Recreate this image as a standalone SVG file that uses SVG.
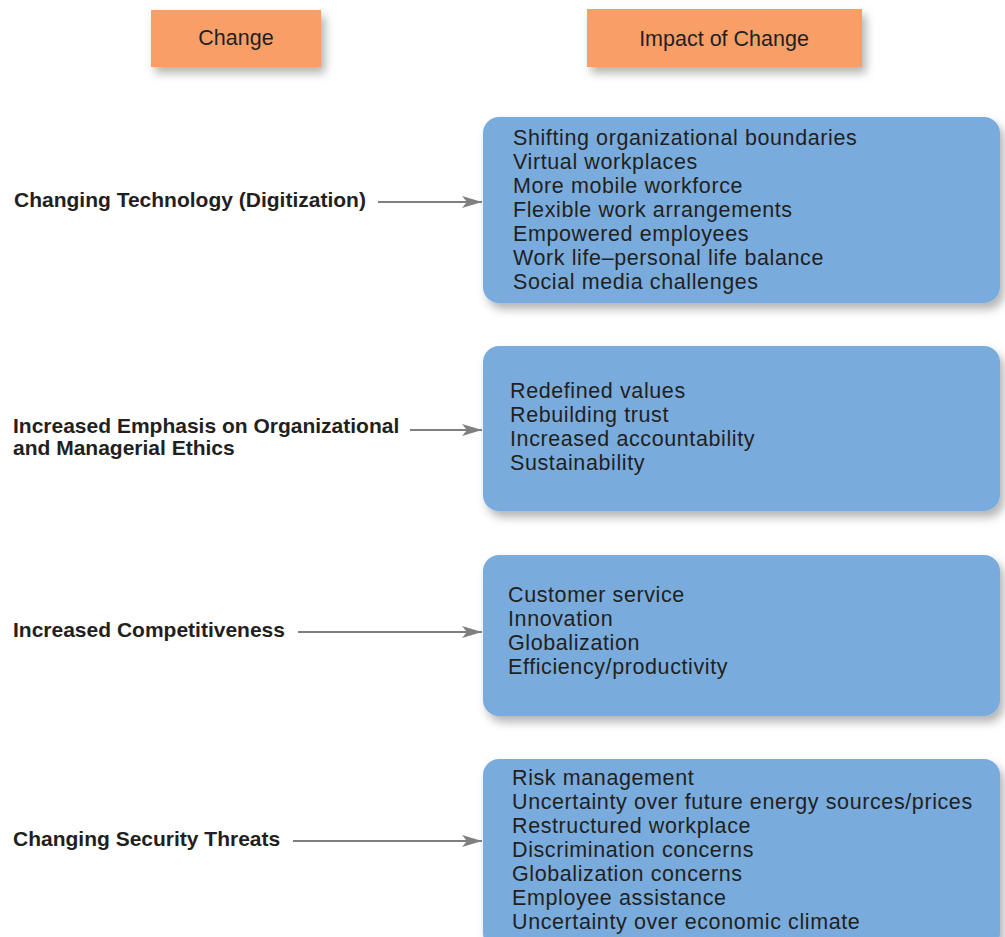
<svg xmlns="http://www.w3.org/2000/svg" width="1005" height="937" viewBox="0 0 1005 937">
  <defs>
    <filter id="shadow" x="-10%" y="-20%" width="130%" height="150%">
      <feDropShadow dx="4" dy="6" stdDeviation="5" flood-color="#000" flood-opacity="0.3"/>
    </filter>
    <marker id="arrow" markerUnits="userSpaceOnUse" markerWidth="22" markerHeight="14" refX="20" refY="6" orient="auto">
      <path d="M0,0 L20,6 L0,12 L5,6 Z" fill="#7f7f7f"/>
    </marker>
    <style>
      .hdr { fill: #f89f68; filter: url(#shadow); }
      .box { fill: #79acdc; filter: url(#shadow); }
      .ht { font-family: "Liberation Sans", Arial, sans-serif; font-size: 21.5px; fill: #231f20; text-anchor: middle; }
      .bt { font-family: "Liberation Sans", Arial, sans-serif; font-size: 21.5px; letter-spacing: 0.6px; fill: #231f20; }
      .lt { font-family: "Liberation Sans", Arial, sans-serif; font-size: 21px; font-weight: bold; fill: #231f20; }
      .conn { stroke: #7f7f7f; stroke-width: 2; fill: none; marker-end: url(#arrow); }
    </style>
  </defs>
  <rect width="1005" height="937" fill="#ffffff"/>

  <g id="header-change">
    <rect class="hdr" x="151" y="10" width="170" height="57"/>
    <text class="ht" x="236" y="45">Change</text>
  </g>
  <g id="header-impact">
    <rect class="hdr" x="587" y="9" width="275" height="58"/>
    <text class="ht" x="724" y="46">Impact of Change</text>
  </g>

  <g id="change-technology">
    <text class="lt" x="14" y="207">Changing Technology (Digitization)</text>
  </g>
  <g id="change-ethics">
    <text class="lt" x="13" y="433">Increased Emphasis on Organizational</text>
    <text class="lt" x="13" y="455">and Managerial Ethics</text>
  </g>
  <g id="change-competitiveness">
    <text class="lt" x="13" y="637">Increased Competitiveness</text>
  </g>
  <g id="change-security">
    <text class="lt" x="13" y="846">Changing Security Threats</text>
  </g>

  <g id="impact-technology">
    <rect class="box" x="483" y="117" width="517" height="186" rx="16"/>
    <text class="bt" x="513" y="145">Shifting organizational boundaries</text>
    <text class="bt" x="513" y="169">Virtual workplaces</text>
    <text class="bt" x="513" y="193">More mobile workforce</text>
    <text class="bt" x="513" y="217">Flexible work arrangements</text>
    <text class="bt" x="513" y="241">Empowered employees</text>
    <text class="bt" x="513" y="265">Work life–personal life balance</text>
    <text class="bt" x="513" y="289">Social media challenges</text>
  </g>
  <g id="impact-ethics">
    <rect class="box" x="483" y="346" width="517" height="165" rx="16"/>
    <text class="bt" x="510" y="398">Redefined values</text>
    <text class="bt" x="510" y="422">Rebuilding trust</text>
    <text class="bt" x="510" y="446">Increased accountability</text>
    <text class="bt" x="510" y="470">Sustainability</text>
  </g>
  <g id="impact-competitiveness">
    <rect class="box" x="483" y="555" width="517" height="161" rx="16"/>
    <text class="bt" x="508" y="602">Customer service</text>
    <text class="bt" x="508" y="626">Innovation</text>
    <text class="bt" x="508" y="650">Globalization</text>
    <text class="bt" x="508" y="674">Efficiency/productivity</text>
  </g>
  <g id="impact-security">
    <rect class="box" x="483" y="759" width="517" height="190" rx="16"/>
    <text class="bt" x="512" y="785">Risk management</text>
    <text class="bt" x="512" y="809">Uncertainty over future energy sources/prices</text>
    <text class="bt" x="512" y="833">Restructured workplace</text>
    <text class="bt" x="512" y="857">Discrimination concerns</text>
    <text class="bt" x="512" y="881">Globalization concerns</text>
    <text class="bt" x="512" y="905">Employee assistance</text>
    <text class="bt" x="512" y="929">Uncertainty over economic climate</text>
  </g>

  <g id="connectors">
    <line class="conn" x1="378" y1="202" x2="482" y2="202"/>
    <line class="conn" x1="410" y1="430" x2="482" y2="430"/>
    <line class="conn" x1="298" y1="632" x2="482" y2="632"/>
    <line class="conn" x1="293" y1="841" x2="482" y2="841"/>
  </g>
</svg>
